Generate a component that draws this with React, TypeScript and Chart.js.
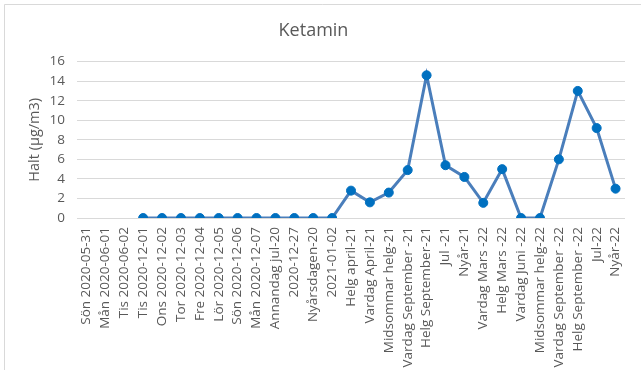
import React, { useEffect, useRef } from "react";
import { Chart, registerables } from "chart.js";

Chart.register(...registerables);

const categories: string[] = [
  "Sön 2020-05-31",
  "Mån 2020-06-01",
  "Tis 2020-06-02",
  "Tis 2020-12-01",
  "Ons 2020-12-02",
  "Tor 2020-12-03",
  "Fre 2020-12-04",
  "Lör 2020-12-05",
  "Sön 2020-12-06",
  "Mån 2020-12-07",
  "Annandag jul-20",
  "2020-12-27",
  "Nyårsdagen-20",
  "2021-01-02",
  "Helg april-21",
  "Vardag April-21",
  "Midsommar helg-21",
  "Vardag September -21",
  "Helg September-21",
  "Jul -21",
  "Nyår-21",
  "Vardag Mars -22",
  "Helg Mars -22",
  "Vardag Juni -22",
  "Midsommar helg-22",
  "Vardag September -22",
  "Helg September -22",
  "Jul-22",
  "Nyår-22",
];

const ketaminValues: (number | null)[] = [
  null, null, null,
  0, 0, 0, 0, 0, 0, 0, 0, 0, 0, 0,
  2.8, 1.6, 2.6, 4.9, 14.6, 5.4, 4.2, 1.55, 5.0, 0, 0, 6.0, 13.0, 9.2, 3.0,
];

const yTicks = { min: 0, max: 16, step: 2 };

const chartTitle = "Ketamin";
const yTitle = "Halt (µg/m3)";

const FONT = "'Open Sans', sans-serif";
const TEXT = "#595959";
const GRID = "#d9d9d9";

const borderPlugin = {
  id: "outerBorder",
  beforeDraw(chart: any) {
    const ctx = chart.ctx;
    ctx.save();
    ctx.fillStyle = "#ffffff";
    ctx.fillRect(0, 0, chart.width, chart.height);
    ctx.strokeStyle = GRID;
    ctx.lineWidth = 1;
    ctx.beginPath();
    ctx.moveTo(4.5, chart.height);
    ctx.lineTo(4.5, 4.5);
    ctx.lineTo(chart.width, 4.5);
    ctx.stroke();
    ctx.restore();
  },
};

export default function App() {
  const canvasRef = useRef<HTMLCanvasElement | null>(null);

  useEffect(() => {
    document.body.style.margin = "0";
    const canvas = canvasRef.current;
    if (!canvas) return;
    const chart = new Chart(canvas, {
      type: "line",
      data: {
        labels: categories,
        datasets: [
          {
            label: chartTitle,
            data: ketaminValues,
            borderColor: "#4A7EBB",
            borderWidth: 3,
            backgroundColor: "#0070C0",
            pointBackgroundColor: "#0070C0",
            pointBorderColor: "#0070C0",
            pointRadius: 4.5,
            pointBorderWidth: 1,
            tension: 0,
            spanGaps: false,
          },
        ],
      },
      options: {
        animation: false,
        responsive: false,
        maintainAspectRatio: false,
        devicePixelRatio: 1,
        layout: { padding: { top: 0, left: 0, right: 14, bottom: 0 } },
        plugins: {
          legend: { display: false },
          tooltip: { enabled: false },
          title: {
            display: true,
            text: chartTitle,
            color: TEXT,
            font: { family: FONT, size: 18, weight: "normal" },
            padding: { top: 20, bottom: 20 },
          },
        },
        scales: {
          x: {
            offset: true,
            grid: { display: false, drawTicks: false },
            border: { display: false },
            ticks: {
              autoSkip: false,
              maxRotation: 90,
              minRotation: 90,
              color: TEXT,
              padding: 9,
              font: { family: FONT, size: 13.5 },
            },
            afterFit(scale: any) {
              scale.height = 152;
            },
          },
          y: {
            min: yTicks.min,
            max: yTicks.max,
            grid: { color: GRID, lineWidth: 1, drawTicks: false },
            border: { display: false },
            ticks: {
              stepSize: yTicks.step,
              color: TEXT,
              padding: 12,
              font: { family: FONT, size: 13.5 },
            },
            title: {
              display: true,
              text: yTitle,
              color: TEXT,
              font: { family: FONT, size: 14.5 },
              padding: { top: 26, bottom: 0 },
            },
            afterFit(scale: any) {
              scale.width = 77;
            },
          },
        },
      },
      plugins: [borderPlugin],
    });
    return () => chart.destroy();
  }, []);

  return (
    <div style={{ position: "absolute", left: 0, top: 0, width: 641, height: 370 }}>
      <canvas ref={canvasRef} width={641} height={370} style={{ width: 641, height: 370, display: "block" }} />
    </div>
  );
}
